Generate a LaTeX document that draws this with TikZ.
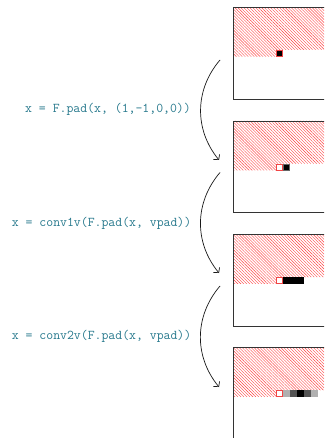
\documentclass[tikz,border=0pt]{standalone}
\usetikzlibrary{patterns.meta,arrows.meta}
\definecolor{codeteal}{RGB}{38,120,140}
\definecolor{pixred}{RGB}{240,70,70}
\begin{document}
\begin{tikzpicture}[x=1pt,y=-1pt,
  boxline/.style={draw=black!80,line width=0.8pt},
  hatch/.style={pattern={Lines[angle=-45,distance=2.1pt,line width=0.4pt]},pattern color=red!75},
  redpix/.style={draw=pixred,line width=0.8pt},
  code/.style={font=\fontsize{13.4}{16}\selectfont\ttfamily,text=codeteal,inner sep=0pt,anchor=base east},
  flow/.style={draw=black!90,line width=0.7pt,-{Straight Barb[length=3.5pt,width=8pt]}}]
\useasboundingbox (0,0) rectangle (324,438);
\clip (0,0) rectangle (324,438);
% panels
\foreach \t in {7.3,121,234.5,347.5}{
  \fill[hatch] (233.3,\t) -- (340,\t) -- (340,\t+42.7) -- (276,\t+42.7) -- (276,\t+49.4) -- (233.3,\t+49.4) -- cycle;
  \draw[boxline] (340,\t) -- (233.3,\t) -- (233.3,\t+91.7) -- (340,\t+91.7);
}
% panel 1
\fill[black] (276,50) rectangle (283,56.7);
\draw[redpix] (276.4,50.4) rectangle (282.6,56.3);
% panel 2
\draw[redpix] (276.4,164.1) rectangle (282.6,170);
\fill[black] (283,163.7) rectangle (290,170.4);
\draw[black!60,line width=0.6pt] (283.3,164) rectangle (289.7,170.1);
% panel 3
\draw[redpix] (276.4,277.6) rectangle (282.6,283.5);
\fill[black] (283,277.2) rectangle (304,283.9);
% panel 4
\draw[redpix] (276.4,390.6) rectangle (282.6,396.5);
\fill[black!31] (283,390.2) rectangle (290,396.9);
\fill[black!67] (290,390.2) rectangle (297,396.9);
\fill[black] (297,390.2) rectangle (304,396.9);
\fill[black!67] (304,390.2) rectangle (311,396.9);
\fill[black!31] (311,390.2) rectangle (318,396.9);
% labels
\node[code] (t1) at (191,113) {x = F.pad(x, (1,-1,0,0))};
\node[code] (t2) at (191.5,226) {x = conv1v(F.pad(x, vpad))};
\node[code] (t3) at (191.5,339.6) {x = conv2v(F.pad(x, vpad))};
% arrows
\coordinate (a1) at (220,60);   \coordinate (b1) at (219,160);
\coordinate (a2) at (220,172.5); \coordinate (b2) at (219,273);
\coordinate (a3) at (220,286);  \coordinate (b3) at (219,387);
\draw[flow] (a1) to[bend right=40] (b1);
\draw[flow] (a2) to[bend right=40] (b2);
\draw[flow] (a3) to[bend right=40] (b3);
\end{tikzpicture}
\end{document}
